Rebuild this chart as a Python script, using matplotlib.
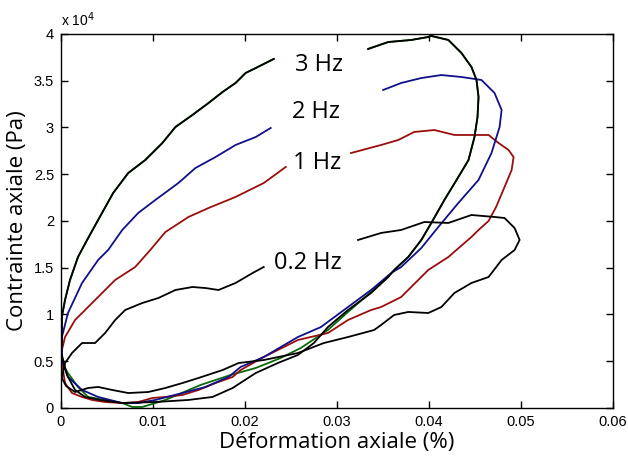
import numpy as np
import matplotlib
matplotlib.use('Agg')
import matplotlib.pyplot as plt

nan = np.nan

# strain (-) and stress (x 1e4 Pa), traced loops; nan = gap under label
x_3hz = [0.0001, 0.0001, 0.00044, 0.00098, 0.00185, 0.00284, 0.00404, 0.00567, 0.00731, 0.00916,
         0.01102, 0.01244, 0.01429, 0.01604, 0.01757, 0.01898, 0.02007, 0.02117, 0.02313, nan,
         0.03339, 0.03557, 0.03808, 0.03993, 0.04026, 0.04211, 0.04353, 0.04462, 0.04517, 0.04539,
         0.04528, 0.04495, 0.0443, 0.0432, 0.04168, 0.04026, 0.03917, 0.03775, 0.03622, 0.03557,
         0.03371, 0.0312, 0.02902, 0.02749, 0.02575, 0.02357, 0.02117, 0.01866, 0.01647, 0.01386,
         0.01026, 0.00666, 0.00425, 0.00262, 0.00153, 0.00065, 0.0001]
y_3hz = [0.674, 0.973, 1.155, 1.369, 1.615, 1.797, 2.011, 2.299, 2.513, 2.652,
         2.834, 3.005, 3.134, 3.262, 3.380, 3.476, 3.583, 3.636, 3.733, nan,
         3.840, 3.914, 3.936, 3.968, 3.979, 3.936, 3.797, 3.647, 3.508, 3.326,
         3.112, 2.898, 2.652, 2.471, 2.225, 1.979, 1.797, 1.615, 1.476, 1.401,
         1.230, 1.048, 0.866, 0.695, 0.567, 0.481, 0.374, 0.214, 0.118, 0.086,
         0.064, 0.053, 0.086, 0.118, 0.193, 0.353, 0.567]

x_green = [0.0001, 0.0001, 0.00044, 0.00098, 0.00185, 0.00284, 0.00404, 0.00567, 0.00731, 0.00916,
           0.01102, 0.01244, 0.01429, 0.01604, 0.01757, 0.01898, 0.02007, 0.02117, 0.02313, nan,
           0.03339, 0.03557, 0.03808, 0.03993, 0.04026, 0.04211, 0.04353, 0.04462, 0.04517, 0.04539,
           0.04528, 0.04495, 0.0443, 0.0432, 0.04168, 0.04026, 0.03917, 0.03775, 0.03622, 0.03557,
           0.03371, 0.0312, 0.02902, 0.02607, 0.02389, 0.02117, 0.01844, 0.01517, 0.01211, 0.01135,
           0.01026, 0.00884, 0.00775, 0.00666, 0.0048, 0.00295, 0.00185, 0.00076, 0.0001]
y_green = [0.70, 0.99, 1.155, 1.369, 1.615, 1.797, 2.011, 2.299, 2.513, 2.652,
           2.834, 3.005, 3.134, 3.262, 3.380, 3.476, 3.583, 3.636, 3.733, nan,
           3.840, 3.914, 3.936, 3.968, 3.979, 3.936, 3.797, 3.647, 3.508, 3.326,
           3.112, 2.898, 2.652, 2.471, 2.225, 1.979, 1.797, 1.615, 1.476, 1.401,
           1.241, 1.027, 0.834, 0.642, 0.535, 0.428, 0.353, 0.246, 0.118, 0.086,
           0.053, 0.011, 0.011, 0.053, 0.086, 0.118, 0.225, 0.374, 0.481]

x_2hz = [0.0001, 0.0001, 0.00076, 0.00229, 0.00404, 0.00513, 0.00666, 0.0084, 0.01026, 0.01276,
         0.01462, 0.0168, 0.01898, 0.02117, 0.0228, nan, 0.03502, 0.03698, 0.03917, 0.04135,
         0.04353, 0.04571, 0.04713, 0.0479, 0.04768, 0.0468, 0.04539, 0.0432, 0.04102, 0.03917,
         0.03698, 0.0359, 0.03371, 0.0312, 0.02826, 0.02575, 0.02204, 0.01953, 0.01822, 0.01571,
         0.0132, 0.01026, 0.0084, 0.00666, 0.00404, 0.00229, 0.00076, 0.0001]
y_2hz = [0.513, 0.759, 1.016, 1.337, 1.583, 1.690, 1.904, 2.086, 2.225, 2.406,
         2.567, 2.684, 2.813, 2.898, 2.995, nan, 3.401, 3.476, 3.529, 3.561,
         3.540, 3.508, 3.369, 3.187, 3.005, 2.727, 2.439, 2.193, 1.936, 1.711,
         1.508, 1.444, 1.262, 1.080, 0.866, 0.759, 0.545, 0.439, 0.332, 0.225,
         0.160, 0.086, 0.053, 0.053, 0.118, 0.193, 0.332, 0.513]

x_1hz = [0.0001, 0.00044, 0.00153, 0.00295, 0.00589, 0.00807, 0.00971, 0.01135, 0.01386, 0.01604,
         0.01898, 0.02117, 0.02204, 0.02444, nan, 0.03153, 0.0348, 0.03666, 0.0384, 0.04059,
         0.04277, 0.04495, 0.04648, 0.04757, 0.04866, 0.0492, 0.04899, 0.04822, 0.0473, 0.04648,
         0.04539, 0.04462, 0.04211, 0.03993, 0.03698, 0.0348, 0.03371, 0.0312, 0.02902, 0.02575,
         0.02204, 0.01953, 0.01866, 0.0168, 0.01495, 0.0132, 0.01135, 0.00993, 0.0084, 0.00666,
         0.0048, 0.00338, 0.00229, 0.0012, 0.00044, 0.0001, 0.0001]
y_1hz = [0.620, 0.759, 0.941, 1.080, 1.369, 1.508, 1.690, 1.882, 2.043, 2.139,
         2.257, 2.364, 2.406, 2.578, nan, 2.727, 2.813, 2.866, 2.952, 2.973,
         2.920, 2.920, 2.920, 2.834, 2.759, 2.684, 2.545, 2.364, 2.150, 2.000,
         1.904, 1.829, 1.615, 1.476, 1.187, 1.080, 1.048, 0.941, 0.802, 0.727,
         0.545, 0.406, 0.332, 0.267, 0.193, 0.139, 0.118, 0.107, 0.064, 0.053,
         0.064, 0.086, 0.118, 0.160, 0.267, 0.481, 0.620]

x_02hz = [0.0001, 0.00044, 0.0012, 0.00229, 0.00371, 0.0048, 0.00589, 0.00698, 0.00884, 0.01058,
          0.01244, 0.01429, 0.01571, 0.01713, 0.01898, 0.02084, 0.02204, nan, 0.03229, 0.0348,
          0.03698, 0.03949, 0.04211, 0.04462, 0.04713, 0.04822, 0.04931, 0.04986, 0.04931, 0.0479,
          0.04648, 0.04462, 0.04277, 0.04135, 0.03993, 0.03775, 0.03622, 0.0348, 0.03404, 0.0312,
          0.02858, 0.02575, 0.02204, 0.01931, 0.01757, 0.01495, 0.0132, 0.01135, 0.00949, 0.00731,
          0.00556, 0.00404, 0.00295, 0.00153, 0.00055, 0.0001]
y_02hz = [0.321, 0.481, 0.588, 0.695, 0.695, 0.802, 0.941, 1.048, 1.123, 1.176,
          1.262, 1.294, 1.283, 1.262, 1.337, 1.444, 1.508, nan, 1.797, 1.872,
          1.904, 1.989, 1.979, 2.064, 2.043, 2.032, 1.925, 1.797, 1.690, 1.583,
          1.401, 1.337, 1.230, 1.080, 1.016, 1.027, 0.995, 0.888, 0.834, 0.759,
          0.695, 0.588, 0.513, 0.481, 0.406, 0.321, 0.267, 0.214, 0.171, 0.160,
          0.193, 0.225, 0.214, 0.171, 0.235, 0.321]

labels = ['3 Hz', '2 Hz', '1 Hz', '0.2 Hz']
label_x = [0.0280, 0.0277, 0.0278, 0.0268]
label_y = [3.668, 3.166, 2.62, 1.551]

xticks = [0, 0.01, 0.02, 0.03, 0.04, 0.05, 0.06]
yticks = [0, 0.5, 1, 1.5, 2, 2.5, 3, 3.5, 4]

fig = plt.figure(figsize=(6.28, 4.63), dpi=100)
ax = fig.add_axes([0.0971, 0.1188, 0.8789, 0.8078])

lw = 1.3
ax.plot(x_green, y_green, color='#0a6a0a', lw=lw)
ax.plot(x_1hz, y_1hz, color='#9a0d0d', lw=lw)
ax.plot(x_2hz, y_2hz, color='#10108a', lw=lw)
ax.plot(x_3hz, y_3hz, color='black', lw=lw)
ax.plot(x_02hz, y_02hz, color='black', lw=lw)

ax.set_xlim(0, 0.06)
ax.set_ylim(0, 4)
ax.set_xticks(xticks)
ax.set_yticks(yticks)
ax.set_xticklabels(['0', '0.01', '0.02', '0.03', '0.04', '0.05', '0.06'])
ax.set_yticklabels(['0', '0.5', '1', '1.5', '2', '2.5', '3', '3.5', '4'])
ax.tick_params(direction='in', top=True, right=True, length=5, width=1, labelsize=10.5, pad=5)
for lab in ax.get_xticklabels() + ax.get_yticklabels():
    lab.set_family(['Liberation Sans Narrow', 'Liberation Sans'])
for s in ax.spines.values():
    s.set_linewidth(1)

for t, lx, ly in zip(labels, label_x, label_y):
    ax.text(lx, ly, t, ha='center', va='center', fontsize=17, family='Open Sans')

ax.text(0.0, 1.012, 'x 10$^4$', transform=ax.transAxes, ha='left', va='bottom',
        fontsize=10, family=['Liberation Sans Narrow', 'Liberation Sans'])

ax.set_xlabel('Déformation axiale (%)', fontsize=16, family='Open Sans', labelpad=2)
ax.set_ylabel('Contrainte axiale (Pa)', fontsize=16, family='Open Sans', labelpad=4)

fig.savefig('out.png', dpi=100)
